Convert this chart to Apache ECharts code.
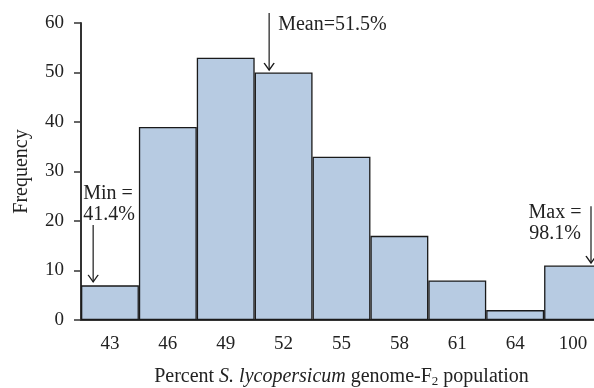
<!DOCTYPE html>
<html>
<head>
<meta charset="utf-8">
<script src="https://cdn.jsdelivr.net/npm/echarts@6/dist/echarts.min.js"></script>
<style>
  html, body { margin: 0; padding: 0; background: #fff; }
  #chart { width: 594px; height: 388px; }
</style>
</head>
<body>
<div id="chart"></div>
<script>
// histogram bins (percent S. lycopersicum genome) and counts
const categories = ['43', '46', '49', '52', '55', '58', '61', '64', '100'];
const frequency = [7, 39, 53, 50, 33, 17, 8, 2, 11];

// annotation arrows: [x in bin units from left edge, y top, y bottom]
const meanArrow = [3.25, 62, 50.5];
const minArrow = [0.21, 19.2, 7.7];
const maxArrow = [8.81, 23, 11.5];

const FONT = '"Liberation Serif", "DejaVu Serif", serif';
const INK = '#1a1a1a';
const TXT = '#222';

const chart = echarts.init(document.getElementById('chart'));

const chevron = 'path://M0,0L5,6L10,0';

function arrowSeries(arrow, label) {
  return {
    type: 'line',
    xAxisIndex: 1,
    yAxisIndex: 0,
    clip: false,
    silent: true,
    symbol: 'circle',
    symbolSize: 0,
    showSymbol: true,
    lineStyle: { color: INK, width: 1.2 },
    itemStyle: { color: 'none', borderColor: INK, borderWidth: 1.2 },
    data: [
      { value: [arrow[0], arrow[1]], label: Object.assign({ show: true }, label) },
      {
        value: [arrow[0], arrow[2]],
        symbol: chevron,
        symbolSize: [10, 7],
        symbolOffset: [0, '-50%']
      }
    ]
  };
}

const labelText = { fontFamily: FONT, fontSize: 20, color: TXT, lineHeight: 21 };

const option = {
  animation: false,
  grid: { left: 81, width: 521, top: 23, bottom: 68, containLabel: false, outerBoundsMode: 'none' },
  xAxis: [
    {
      type: 'category',
      data: categories,
      name: '{n|Percent }{i|S. lycopersicum}{n| genome-F}{s|2}{n| population}',
      nameLocation: 'middle',
      nameGap: 46,
      nameTextStyle: {
        rich: {
          n: { fontFamily: FONT, fontSize: 20, color: TXT },
          i: { fontFamily: FONT, fontSize: 20, color: TXT, fontStyle: 'italic' },
          s: { fontFamily: FONT, fontSize: 13, color: TXT, padding: [9, 0, 0, 0] }
        }
      },
      axisLine: { lineStyle: { color: '#333', width: 2 } },
      axisTick: { length: 7, lineStyle: { color: '#333', width: 1.5 } },
      axisLabel: { fontFamily: FONT, fontSize: 19, color: TXT, margin: 15 }
    },
    { type: 'value', min: 0, max: 9, show: false }
  ],
  yAxis: {
    type: 'value',
    min: 0,
    max: 60,
    interval: 10,
    name: 'Frequency',
    nameLocation: 'middle',
    nameGap: 49,
    nameTextStyle: { fontFamily: FONT, fontSize: 20, color: TXT },
    axisLine: { show: true, lineStyle: { color: '#333', width: 2 } },
    axisTick: { show: true, length: 7, lineStyle: { color: '#333', width: 1.5 } },
    axisLabel: { fontFamily: FONT, fontSize: 19, color: TXT, margin: 17 },
    splitLine: { show: false }
  },
  series: [
    {
      type: 'bar',
      data: frequency,
      barCategoryGap: 0,
      itemStyle: { color: '#b7cbe2', borderColor: INK, borderWidth: 1.3 }
    },
    arrowSeries(meanArrow, Object.assign({
      formatter: 'Mean=51.5%', position: 'right', distance: 9, offset: [0, 12]
    }, labelText)),
    arrowSeries(minArrow, Object.assign({
      formatter: 'Min =\n41.4%', position: 'top', align: 'left', distance: 2, offset: [-10, 2]
    }, labelText)),
    arrowSeries(maxArrow, Object.assign({
      formatter: 'Max =\n98.1%', position: 'left', align: 'center', distance: 8, offset: [-28, 17]
    }, labelText))
  ]
};

chart.setOption(option);
window.addEventListener('resize', () => chart.resize());
</script>
</body>
</html>
